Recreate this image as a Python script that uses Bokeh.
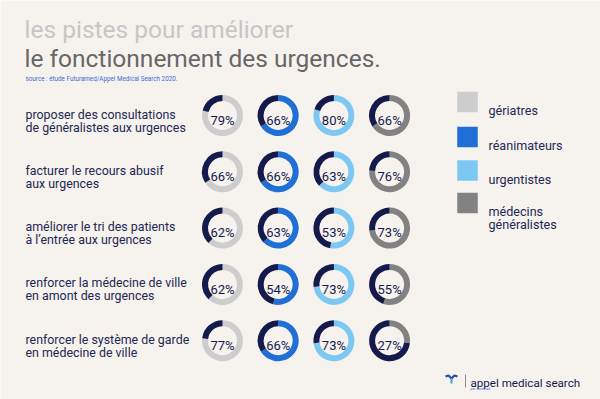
import math
from bokeh.plotting import figure
from bokeh.models import Range1d, ColumnDataSource
from bokeh.core.properties import value
from bokeh.embed import file_html
from bokeh.resources import INLINE

# ---------------- data ----------------
title_line1 = "les pistes pour améliorer"
title_line2 = "le fonctionnement des urgences."
source_note = "source : étude Futuramed/Appel Medical Search 2020."

measures = [
    "proposer des consultations\nde généralistes aux urgences",
    "facturer le recours abusif\naux urgences",
    "améliorer le tri des patients\nà l’entrée aux urgences",
    "renforcer la médecine de ville\nen amont des urgences",
    "renforcer le système de garde\nen médecine de ville",
]
groups = ["gériatres", "réanimateurs", "urgentistes", "médecins\ngénéralistes"]
geriatres = [79, 66, 62, 62, 77]
reanimateurs = [66, 66, 63, 54, 66]
urgentistes = [80, 63, 53, 73, 73]
medecins_generalistes = [66, 76, 73, 55, 27]

brand_name = "appel medical search"
brand_sub = "par randstad"

# ---------------- style ----------------
BG = "#f6f3ef"
NAVY = "#141a4b"
TEXT = "#232852"
group_colors = ["#cdcdcd", "#1f6fd6", "#7dc8f2", "#828282"]
series = [geriatres, reanimateurs, urgentistes, medecins_generalistes]

W, H = 600, 399
p = figure(width=W, height=H, output_backend="svg", toolbar_location=None,
           x_range=Range1d(0, W), y_range=Range1d(0, H),
           min_border=0, outline_line_color=None,
           background_fill_color=BG, border_fill_color=BG)
p.axis.visible = False
p.grid.visible = False

def Y(py):
    return H - py

FONT = "Roboto"

# titles
p.text(x=[24], y=[Y(29)], text=[title_line1], text_font=value(FONT),
       text_font_size="24.5px", text_color="#c6c6c6", text_baseline="alphabetic")
p.text(x=[24], y=[Y(58)], text=[title_line2], text_font=value(FONT),
       text_font_size="24.5px", text_color="#676767", text_baseline="alphabetic")
p.text(x=[25], y=[Y(78.5)], text=[source_note], text_font=value(FONT),
       text_font_size="6.3px", text_color="#3d6bd4", text_baseline="alphabetic")

# donut layout
col_px = [222 + i * 55.7 for i in range(4)]
row_px = [115 + j * 56.3 for j in range(5)]
R_OUT, R_IN = 20.5, 14.5

cx, cy, cs, ce, cc = [], [], [], [], []
nx, ny, ns, ne = [], [], [], []
tx, ty, tt = [], [], []
for gi, vals in enumerate(series):
    for ri, v in enumerate(vals):
        x = col_px[gi]
        y = Y(row_px[ri])
        frac = v / 100.0
        top = math.pi / 2
        cx.append(x); cy.append(y)
        cs.append(top - frac * 2 * math.pi); ce.append(top); cc.append(group_colors[gi])
        nx.append(x); ny.append(y)
        ns.append(top); ne.append(top + (1 - frac) * 2 * math.pi)
        tx.append(x); ty.append(y - 4.6); tt.append(f"{v}%")

p.annular_wedge(x="x", y="y", inner_radius=R_IN, outer_radius=R_OUT,
                start_angle="s", end_angle="e", color="c", line_color=None,
                source=ColumnDataSource(dict(x=cx, y=cy, s=cs, e=ce, c=cc)))
p.annular_wedge(x="x", y="y", inner_radius=R_IN, outer_radius=R_OUT,
                start_angle="s", end_angle="e", color=NAVY, line_color=None,
                source=ColumnDataSource(dict(x=nx, y=ny, s=ns, e=ne)))
p.text(x=tx, y=ty, text=tt, text_font=value(FONT), text_font_size="13px",
       text_color=NAVY, text_align="center", text_baseline="alphabetic")

# row labels
lx, ly, lt = [], [], []
for ri, lab in enumerate(measures):
    l1, l2 = lab.split("\n")
    lx += [25, 25]
    ly += [Y(row_px[ri] - 1.5), Y(row_px[ri] + 11.5)]
    lt += [l1, l2]
p.text(x=lx, y=ly, text=lt, text_font=value(FONT), text_font_size="12.4px",
       text_color=TEXT, text_baseline="alphabetic")

# legend
sq_px = [101.5, 136.5, 170, 202.5]
p.rect(x=[467] * 4, y=[Y(v) for v in sq_px], width=20.5, height=20.5,
       color=group_colors, line_color=None)
gx, gy, gt = [], [], []
for gi, g in enumerate(groups):
    parts = g.split("\n")
    for k, part in enumerate(parts):
        gx.append(488)
        gy.append(Y(sq_px[gi] + 8.5 + 13 * k))
        gt.append(part)
p.text(x=gx, y=gy, text=gt, text_font=value(FONT), text_font_size="12.6px",
       text_color=TEXT, text_baseline="alphabetic")

# brand logo
p.multi_line(xs=[[445, 448, 451], [451, 454, 457]],
             ys=[[Y(376), Y(375), Y(378)], [Y(378), Y(375), Y(376)]],
             line_color=["#1f4fa8", "#1f4fa8"], line_width=2.2)
p.segment(x0=[451], y0=[Y(378)], x1=[451], y1=[Y(383)], line_color="#4aa8e0", line_width=2.2)
p.segment(x0=[465], y0=[Y(374)], x1=[465], y1=[Y(387)], line_color="#8a8a9a", line_width=1)
p.text(x=[470], y=[Y(382)], text=[brand_name], text_font=value(FONT),
       text_font_size="11.6px", text_color=NAVY, text_baseline="alphabetic")
p.text(x=[470], y=[Y(388.5)], text=[brand_sub], text_font=value(FONT),
       text_font_size="3.5px", text_color="#3d6bd4", text_baseline="alphabetic")

html = file_html(p, INLINE)
open("out.html", "w").write(html)
